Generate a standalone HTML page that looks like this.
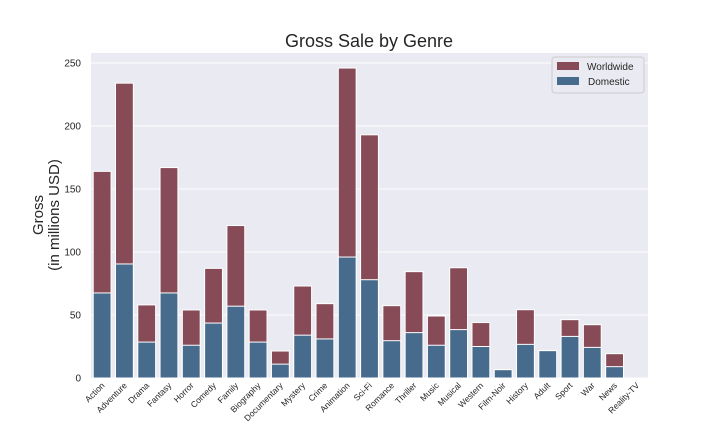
<!DOCTYPE html>
<html><head><meta charset="utf-8"><style>
body{margin:0;background:#fff;}
svg{display:block;font-family:"Liberation Sans",Arial,sans-serif;}
</style></head><body>
<svg id="chart" width="720" height="432">
<rect x="91" y="53" width="557" height="325" fill="#eaeaf2"/>
<g id="grid"></g><g id="bars"></g><g id="xt"></g><g id="yt"></g>
<text x="369" y="47" text-anchor="middle" font-size="18" fill="#262626">Gross Sale by Genre</text>
<text transform="translate(49,215) rotate(-90)" text-anchor="middle" font-size="15" fill="#262626"><tspan x="0" dy="-6">Gross</tspan><tspan x="0" dy="16">(in millions USD)</tspan></text>
<g>
<rect x="552" y="57" width="92" height="36" rx="3" fill="#eaeaf2" stroke="#cccccc"/>
<rect x="557" y="62" width="22" height="8" fill="#874b58"/>
<text x="587" y="70" font-size="10" fill="#262626">Worldwide</text>
<rect x="557" y="77" width="22" height="8" fill="#476b8c"/>
<text x="588" y="85" font-size="10" fill="#262626">Domestic</text>
</g>
</svg>
<script>
const genres=["Action","Adventure","Drama","Fantasy","Horror","Comedy","Family","Biography","Documentary","Mystery","Crime","Animation","Sci-Fi","Romance","Thriller","Music","Musical","Western","Film-Noir","History","Adult","Sport","War","News","Reality-TV"];
const worldwide=[164,234,58,167,54,87,121,54,21.4,73,59,246,193,57.4,84.4,49.2,87.5,44,6.6,54.2,21.7,46.3,42.3,19.3,0];
const domestic=[67.5,90.5,28.5,67.5,26,43.6,57,28.5,11,34,31,96,78,29.6,36,26,38.4,25,6.6,26.7,21.7,33,24.3,9,0];
const yTicks=[0,50,100,150,200,250];
const NS="http://www.w3.org/2000/svg";
const X0=91,X1=648,Y0=378,K=1.26;
const step=(X1-X0)/genres.length;
const y=v=>Y0-v*K;
const xc=i=>X0+step*(i+0.5);
function mk(t,a,p){const e=document.createElementNS(NS,t);for(const k in a)e.setAttribute(k,a[k]);document.getElementById(p).appendChild(e);return e;}
yTicks.forEach(v=>{
 const l=mk('line',{x1:X0,x2:X1,y1:y(v),y2:y(v),stroke:'#fff','stroke-width':1},'grid');
 
 
 const t=mk('text',{x:X0-10,y:y(v)+3.5,'text-anchor':'end','font-size':10,fill:'#262626'},'yt');
 t.textContent=v;
 
 
});
const bw=step*0.8;
genres.forEach((g,i)=>{
 const key=g.toLowerCase();
 if(worldwide[i]>0){
  const r=mk('rect',{x:xc(i)-bw/2,y:y(worldwide[i]),width:bw,height:worldwide[i]*K,fill:'#874b58',stroke:'#fff','stroke-width':1},'bars');
  
  
 }
 if(domestic[i]>0){
  const r=mk('rect',{x:xc(i)-bw/2,y:y(domestic[i]),width:bw,height:domestic[i]*K,fill:'#476b8c',stroke:'#fff','stroke-width':1},'bars');
  
  
 }
 const t=mk('text',{transform:`translate(${xc(i)+3},${Y0+8}) rotate(-45)`,'text-anchor':'end','font-size':8.5,fill:'#262626'},'xt');
 t.textContent=g;
 
 
});
</script>
</body></html>
